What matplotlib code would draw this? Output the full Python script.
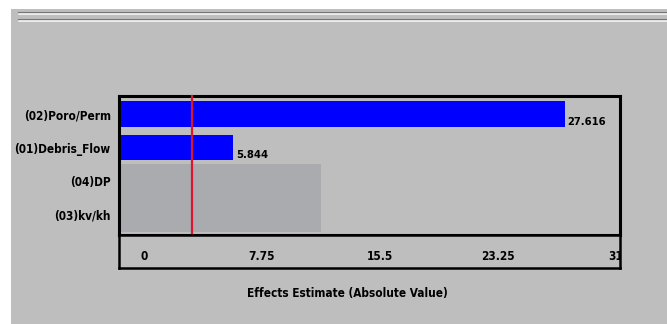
import matplotlib
matplotlib.use("Agg")
import matplotlib.pyplot as plt
from matplotlib.patches import Rectangle
from matplotlib.lines import Line2D

plt.rcParams['font.family'] = ['DejaVu Sans']
plt.rcParams['font.weight'] = 'bold'
plt.rcParams['font.stretch'] = 'condensed'

# effects, top to bottom
factors = ['(02)Poro/Perm', '(01)Debris_Flow', '(04)DP', '(03)kv/kh']
effects = [27.616, 5.844, 11.6, 11.6]
significant = [True, True, False, False]
threshold = 3.15

ticks = [0, 7.75, 15.5, 23.25, 31]
tick_labels = ['0', '7.75', '15.5', '23.25', '31']
xmin, xmax = -1.64, 31.26

W, H = 667, 324
bg = '#bebebe'

fig = plt.figure(figsize=(W / 100, H / 100), dpi=100, facecolor=bg)

# white margin on the left and top
fig.patches.append(Rectangle((0, 0), 11 / W, 1, transform=fig.transFigure,
                             facecolor='white', edgecolor='none', zorder=-1))
fig.patches.append(Rectangle((0, 1 - 9 / H), 1, 9 / H, transform=fig.transFigure,
                             facecolor='white', edgecolor='none', zorder=-1))
# etched separator lines
for y0 in (12.5, 19.5):
    fig.lines.append(Line2D([19 / W, 1], [1 - y0 / H] * 2, transform=fig.transFigure,
                            color='#767676', lw=1.5))
    fig.lines.append(Line2D([19 / W, 1], [1 - (y0 + 1.7) / H] * 2, transform=fig.transFigure,
                            color='#f6f6f6', lw=1.2))

# bar area
ax = fig.add_axes([119 / W, 1 - 235 / H, 501 / W, 139 / H])
ax.set_facecolor(bg)
for i, (name, val, sig) in enumerate(zip(factors, effects, significant)):
    if sig:
        ax.barh(i, val - xmin, left=xmin, height=0.76, color='#0000ff')
        ax.text(val + 0.2, i + 0.22, f'{val:.3f}', ha='left', va='center', fontsize=8)
    else:
        ax.barh(i, val - xmin, left=xmin, height=1.03, color='#a9abae')
ax.axvline(threshold, ymin=-0.02, ymax=1.0, color='#dc1430', lw=1.6, clip_on=False, zorder=5)
ax.set_xlim(xmin, xmax)
ax.set_ylim(3.6, -0.54)
ax.set_yticks(range(len(factors)))
ax.set_yticklabels(factors, fontsize=8.5)
ax.tick_params(axis='y', length=0, pad=6)
ax.set_xticks([])
for s in ax.spines.values():
    s.set_linewidth(2.2)
    s.set_color('black')

# tick label strip below the bars
ax2 = fig.add_axes([119 / W, 1 - 268 / H, 501 / W, 33 / H])
ax2.set_facecolor(bg)
ax2.set_xlim(xmin, xmax)
ax2.set_ylim(0, 1)
ax2.set_xticks([])
ax2.set_yticks([])
for t, lab in zip(ticks, tick_labels):
    ax2.text(t, 0.35, lab, ha='center', va='center', fontsize=8.5, clip_on=True)
for s in ax2.spines.values():
    s.set_linewidth(1.8)
    s.set_color('black')

fig.text(347 / W, 1 - 294 / H, 'Effects Estimate (Absolute Value)',
         ha='center', va='center', fontsize=8.5)

fig.savefig('out.png', dpi=100, facecolor=fig.get_facecolor())
